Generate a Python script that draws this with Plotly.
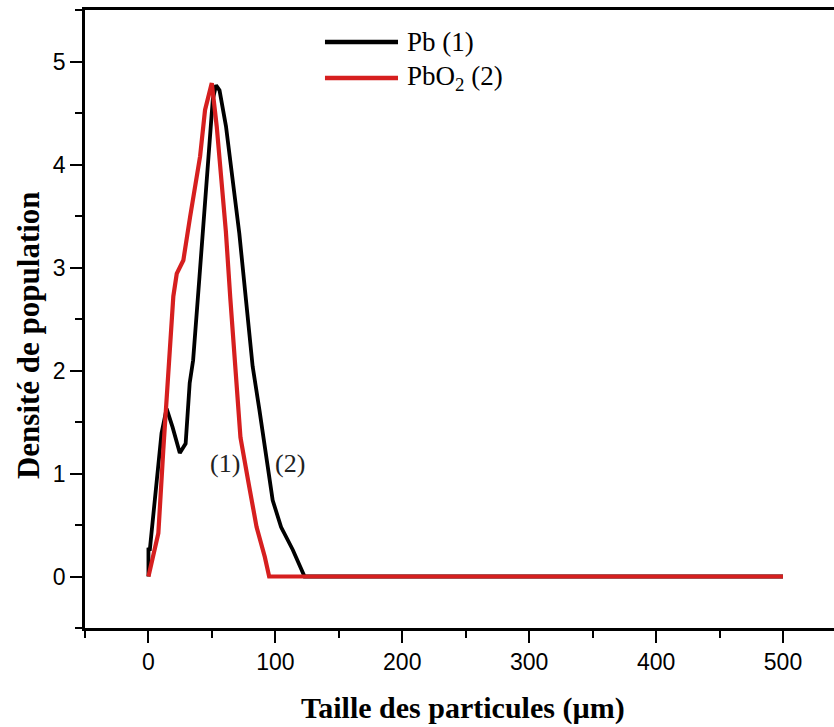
import plotly.graph_objects as go

# Data
pb_x = [0, 0, 1, 3.9, 10.3, 14.3, 19, 24.7, 29.3, 32.5, 35.2, 40.2, 50.7, 53.3, 56,
        61.1, 71.6, 76.9, 82.1, 87.4, 92.6, 97.9, 104.5, 113.7, 123, 500]
pb_y = [0, 0.28, 0.25, 0.58, 1.39, 1.63, 1.45, 1.20, 1.29, 1.88, 2.10, 2.91, 4.63, 4.77, 4.72,
        4.37, 3.33, 2.68, 2.04, 1.62, 1.16, 0.74, 0.48, 0.26, 0, 0]

pbo2_x = [0, 7.8, 11.7, 14.4, 19.6, 22.3, 27.5, 32.8, 40.7, 44.6, 49.9, 53.8, 57, 61,
          64.5, 68.5, 72.5, 79, 85.2, 91.7, 95.1, 500]
pbo2_y = [0, 0.42, 1.23, 1.71, 2.72, 2.94, 3.07, 3.49, 4.08, 4.53, 4.79, 4.37, 3.9, 3.35,
          2.7, 2.0, 1.35, 0.9, 0.48, 0.19, 0, 0]

series_names = ["Pb (1)", "PbO<sub>2</sub> (2)"]
curve_labels = ["(1)", "(2)"]
curve_label_x = [60.4, 111.6]
curve_label_y = [1.10, 1.10]

x_ticks = [0, 100, 200, 300, 400, 500]
y_ticks = [0, 1, 2, 3, 4, 5]

BLACK = "#000000"
RED = "#d61f1f"
SERIF = "Liberation Serif, Times New Roman, serif"
SANS = "Liberation Sans, Arial, sans-serif"

fig = go.Figure()
fig.add_trace(go.Scatter(x=pb_x, y=pb_y, mode="lines", name=series_names[0],
                         line=dict(color=BLACK, width=3.8), showlegend=False))
fig.add_trace(go.Scatter(x=pbo2_x, y=pbo2_y, mode="lines", name=series_names[1],
                         line=dict(color=RED, width=4.2), showlegend=False))

# manual legend (line samples + labels), matching the reference's long line samples
legend_y = [0.9482, 0.8900]
legend_colors = [BLACK, RED]
shapes = []
annotations = []
for name, ly, col in zip(series_names, legend_y, legend_colors):
    shapes.append(dict(type="line", xref="paper", yref="paper",
                       x0=0.3204, x1=0.4179, y0=ly, y1=ly,
                       line=dict(color=col, width=4.5)))
    annotations.append(dict(xref="paper", yref="paper", x=0.4272, y=ly,
                            xanchor="left", yanchor="middle", showarrow=False,
                            text=name, font=dict(family=SERIF, size=27, color=BLACK)))

for t, ax_, ay_ in zip(curve_labels, curve_label_x, curve_label_y):
    annotations.append(dict(x=ax_, y=ay_, xref="x", yref="y", text=t, showarrow=False,
                            xanchor="center", yanchor="middle",
                            font=dict(family=SERIF, size=26, color="#222222")))

# axis titles
annotations.append(dict(xref="paper", yref="paper", x=0.505, y=-0.129,
                        xanchor="center", yanchor="middle", showarrow=False,
                        text="<b>Taille des particules (µm)</b>",
                        font=dict(family=SERIF, size=30, color=BLACK)))
annotations.append(dict(xref="paper", yref="paper", x=-0.0761, y=0.474,
                        xanchor="center", yanchor="middle", showarrow=False,
                        textangle=-90,
                        text="<b>Densité de population</b>",
                        font=dict(family=SERIF, size=31, color=BLACK)))

fig.update_layout(
    width=834, height=727,
    margin=dict(l=85, r=0, t=10, b=99),
    paper_bgcolor="white", plot_bgcolor="white",
    shapes=shapes, annotations=annotations,
    xaxis=dict(range=[-50, 540.2], tickvals=x_ticks, ticks="outside", ticklen=12,
               tickwidth=2, tickcolor=BLACK, showline=True, linecolor=BLACK,
               linewidth=2.5, mirror=True, showgrid=False, zeroline=False,
               tickfont=dict(family=SANS, size=23, color=BLACK),
               minor=dict(dtick=50, tick0=0, ticks="outside", ticklen=7,
                          tickwidth=2, tickcolor=BLACK, showgrid=False)),
    yaxis=dict(range=[-0.5, 5.5], tickvals=y_ticks, ticks="outside", ticklen=12,
               tickwidth=2, tickcolor=BLACK, showline=True, linecolor=BLACK,
               linewidth=2.5, showgrid=False, zeroline=False,
               tickfont=dict(family=SANS, size=23, color=BLACK),
               minor=dict(dtick=0.5, tick0=0, ticks="outside", ticklen=7,
                          tickwidth=2, tickcolor=BLACK, showgrid=False)),
)

fig.write_html("out.html")
